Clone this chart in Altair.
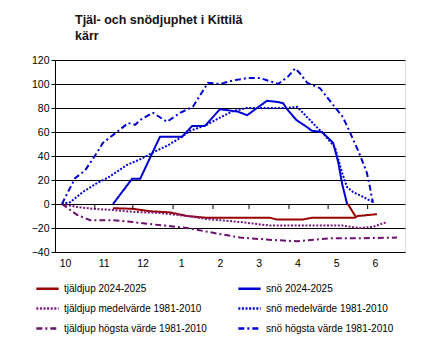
import json
import altair as alt
import pandas as pd

# x = position in season, 0 = October label, 1 = November label, ... 8 = June label
MONTH_LABELS = ["10", "11", "12", "1", "2", "3", "4", "5", "6"]
MONTH_BOUNDARIES = [0.77, 1.75, 2.79, 3.82, 4.75, 5.78, 6.79, 7.81]

# legend fills column by column
SERIES = [
    "tjäldjup 2024-2025",
    "tjäldjup medelvärde 1981-2010",
    "tjäldjup högsta värde 1981-2010",
    "snö 2024-2025",
    "snö medelvärde 1981-2010",
    "snö högsta värde 1981-2010",
]
COLORS = ["#990000", "#7a1a7a", "#6e1070", "#0000d4", "#0000d4", "#0000d4"]
DASHES = [[1, 0], [2, 1.6], [6, 3, 2, 3], [1, 0], [2, 1.6], [6, 3, 2, 3]]

frost_2425_x = [1.24, 1.75, 2.19, 2.71, 3.15, 3.66, 4.52, 5.29, 5.47, 6.12, 6.37, 7.48, 7.56, 8.05]
frost_2425_y = [-3.5, -4, -6, -7, -10, -11.5, -11.5, -11.5, -13, -13, -11.5, -11.5, -10, -8.5]
frost_2425b_x = [7.30, 7.51]
frost_2425b_y = [0, -11]

snow_2425_x = [1.24, 1.73, 1.94, 2.45, 3.02, 3.28, 3.61, 4.00, 4.46, 4.70, 5.21, 5.50, 5.63,
               5.73, 5.97, 6.25, 6.37, 6.63, 6.92, 7.05, 7.15, 7.28]
snow_2425_y = [0, 21, 21, 56, 56, 65, 65, 79, 77, 74, 86, 85, 84,
               79, 70, 64, 61, 60, 51, 35, 17, 0]

frost_mean_x = [-0.08, 0.31, 0.72, 1.24, 1.75, 2.45, 3.15, 3.66, 4.52, 5.29, 7.17, 7.61, 7.95, 8.31]
frost_mean_y = [0, -2.5, -4, -5, -6.5, -7.5, -10, -12.5, -15, -18, -18, -20, -19, -15]

snow_mean_x = [-0.08, 0.13, 0.46, 0.83, 1.11, 1.60, 1.99, 2.27, 2.66, 2.97, 3.23, 3.66, 4.00,
               4.34, 4.70, 5.03, 5.73, 5.99, 6.14, 6.50, 6.66, 6.97, 7.15, 7.28, 7.43, 7.69, 7.92]
snow_mean_y = [0, 1.5, 10, 17.5, 22, 32.5, 38, 43, 49, 55, 61, 66, 72,
               77.5, 80, 80, 80, 81, 76, 64, 59, 47, 26, 14, 10, 6, 2]

frost_max_x = [-0.08, 0.31, 0.65, 1.24, 1.75, 2.27, 3.15, 3.82, 4.52, 5.37, 5.99, 6.84, 7.69, 8.57]
frost_max_y = [0, -9, -13.5, -13.5, -15, -17, -20, -24, -28, -30, -31, -28.5, -28.5, -28]

snow_max_x = [-0.08, 0.26, 0.52, 0.83, 0.98, 1.34, 1.63, 1.81, 1.94, 2.27, 2.63, 2.97, 3.30,
              3.69, 4.00, 4.34, 4.72, 5.03, 5.37, 5.50, 5.75, 5.94, 6.06, 6.25, 6.58, 6.92,
              7.17, 7.35, 7.61, 7.79, 7.87, 7.92, 7.95]
snow_max_y = [0, 21.5, 28, 43, 51, 60, 67.5, 66, 70, 76, 68.5, 76, 81,
              101, 100, 103, 105, 105, 101.5, 100, 106, 113, 109, 101, 96.5, 82.5,
              72.5, 60, 41, 26, 14, 5, 1]

parts = [
    ("tjäldjup 2024-2025", "a", frost_2425_x, frost_2425_y),
    ("tjäldjup 2024-2025", "b", frost_2425b_x, frost_2425b_y),
    ("snö 2024-2025", "a", snow_2425_x, snow_2425_y),
    ("tjäldjup medelvärde 1981-2010", "a", frost_mean_x, frost_mean_y),
    ("snö medelvärde 1981-2010", "a", snow_mean_x, snow_mean_y),
    ("tjäldjup högsta värde 1981-2010", "a", frost_max_x, frost_max_y),
    ("snö högsta värde 1981-2010", "a", snow_max_x, snow_max_y),
]
rows = []
for name, seg, xs, ys in parts:
    for i, (xv, yv) in enumerate(zip(xs, ys)):
        rows.append({"serie": name, "seg": name + seg, "i": i, "x": xv, "y": yv})
df = pd.DataFrame(rows)

FONT = "Liberation Sans"
label_expr = json.dumps(MONTH_LABELS) + "[round(datum.value)]"

x_scale = alt.Scale(domain=[-0.258, 8.774], nice=False, zero=False)
y_scale = alt.Scale(domain=[-40, 120], nice=False)

x_axis = alt.Axis(values=list(range(len(MONTH_LABELS))), labelExpr=label_expr,
                  ticks=False, domain=False, grid=False, labelPadding=6,
                  labelOverlap=False, labelFontSize=10.5, labelFont=FONT,
                  labelColor="black")
y_axis = alt.Axis(values=list(range(-40, 121, 20)), grid=True, gridColor="black",
                  gridOpacity=1, gridWidth=1, domainColor="black", tickColor="black",
                  labelOverlap=False, tickSize=4, labelPadding=2, labelFontSize=10.5,
                  labelFont=FONT, labelColor="black")

lines = alt.Chart(df).mark_line(strokeWidth=2).encode(
    x=alt.X("x:Q", scale=x_scale, title=None, axis=x_axis),
    y=alt.Y("y:Q", scale=y_scale, title=None, axis=y_axis),
    color=alt.Color("serie:N", scale=alt.Scale(domain=SERIES, range=COLORS), title=None,
                    legend=alt.Legend(orient="none", legendX=-20, legendY=216, columns=2,
                                      symbolType="stroke", symbolSize=500, symbolStrokeWidth=2.5,
                                      labelFont=FONT, labelFontSize=10, labelColor="black",
                                      labelOffset=4, rowPadding=2, columnPadding=26,
                                      labelLimit=300)),
    strokeDash=alt.StrokeDash("serie:N", scale=alt.Scale(domain=SERIES, range=DASHES), title=None),
    detail="seg:N",
    order="i:Q",
)

# small tick marks hanging below the zero line at the month boundaries
ticks_df = pd.DataFrame({"x": MONTH_BOUNDARIES, "y0": [0] * len(MONTH_BOUNDARIES),
                         "y1": [-4.2] * len(MONTH_BOUNDARIES)})
ticks = alt.Chart(ticks_df).mark_rule(color="black", strokeWidth=1).encode(
    x=alt.X("x:Q", scale=x_scale, title=None, axis=x_axis),
    y=alt.Y("y0:Q", scale=y_scale, title=None, axis=y_axis),
    y2="y1:Q",
)

chart = alt.layer(lines, ticks).properties(
    width=350,
    height=192,
    autosize=alt.AutoSizeParams(type="none"),
    padding={"left": 55, "top": 60, "right": 25, "bottom": 100},
    title=alt.TitleParams(["Tjäl- och snödjuphet i Kittilä", "kärr"], anchor="start", dx=20,
                          frame="group", offset=13, fontSize=12.5, font=FONT,
                          fontWeight="bold", color="#111111", lineHeight=16),
).configure_view(stroke="black", strokeWidth=1).configure(background="white")

chart.save("out.html", embed_options={"renderer": "svg", "actions": False})
